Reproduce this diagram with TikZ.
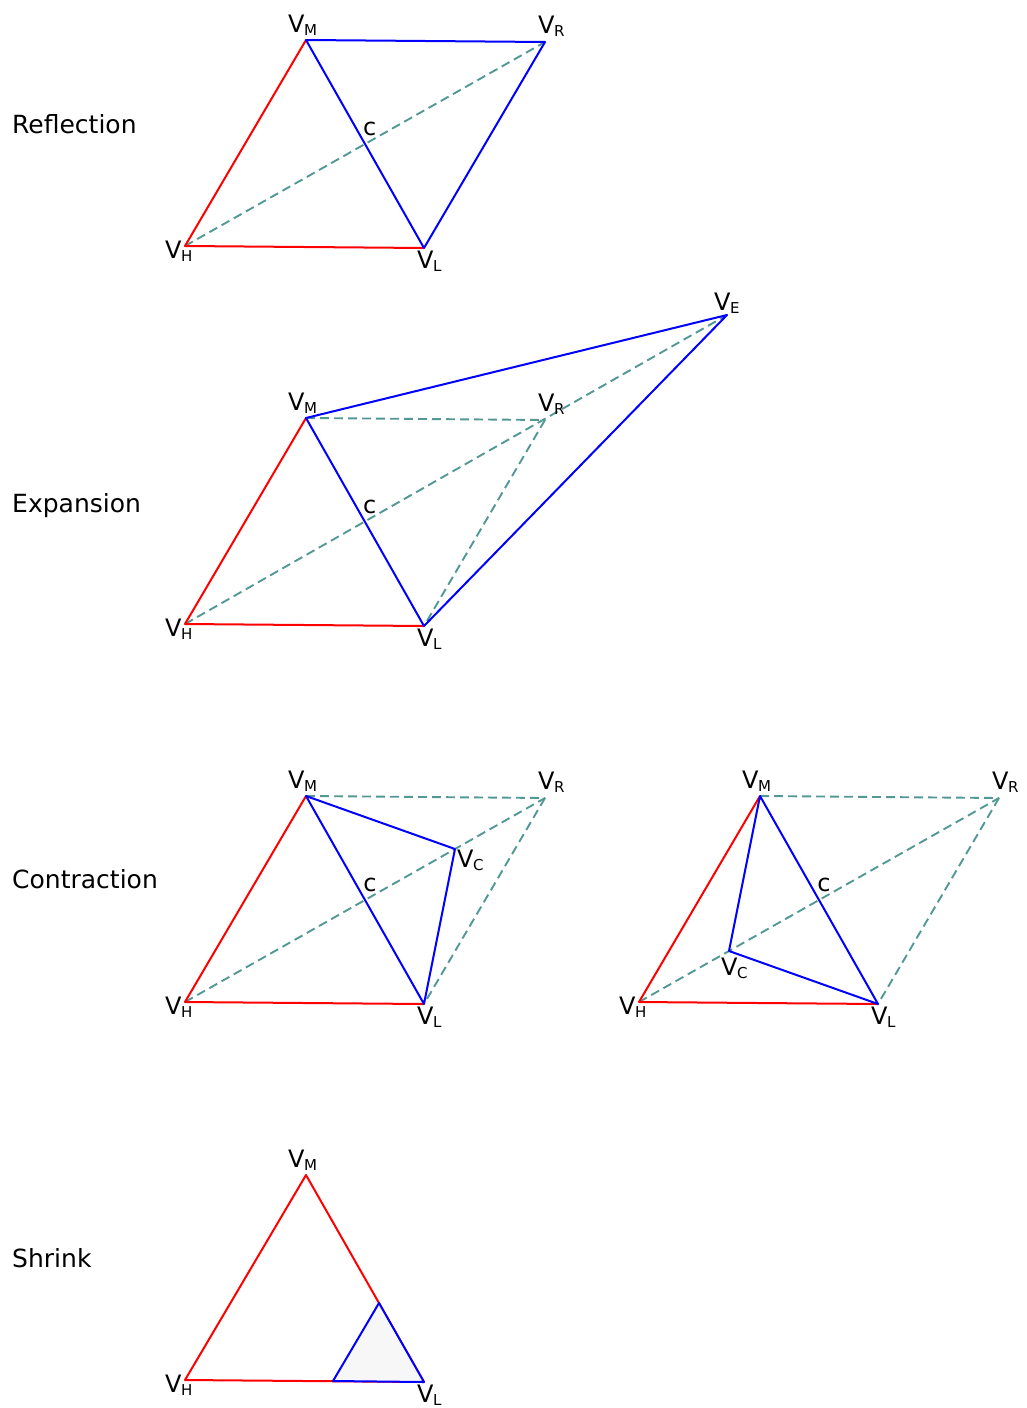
\documentclass[tikz,border=0pt]{standalone}
\usepackage{fontspec}
\setmainfont{DejaVu Sans}
\definecolor{dashteal}{RGB}{82,152,148}
\definecolor{shrinkfill}{RGB}{247,247,247}
\newcommand\vlab[1]{V\kern-0.5pt\raisebox{-3.5pt}{\fontsize{15}{15}\selectfont #1}}
\begin{document}
\begin{tikzpicture}[x=1pt,y=-1pt,
  redline/.style={draw=red,line width=2pt,line join=round},
  blueline/.style={draw=blue,line width=2pt,line join=round},
  dashline/.style={draw=dashteal,line width=1.9pt,dash pattern=on 9pt off 5pt},
  vtext/.style={anchor=base west,inner sep=0pt,font=\fontsize{24}{24}\selectfont},
  rowtext/.style={anchor=base west,inner sep=0pt,font=\fontsize{25}{28}\selectfont}]
\useasboundingbox (0,0) rectangle (1027,1408);
% row titles
\node[rowtext] (t1) at (12,133) {Reflection};
\node[rowtext] (t2) at (12,512) {Expansion};
\node[rowtext] (t3) at (12,888) {Contraction};
\node[rowtext] (t4) at (12,1267) {Shrink};
% ---------- Reflection ----------
\coordinate (H1) at (185,246);
\coordinate (L1) at (424,248);
\coordinate (M1) at (306,40);
\coordinate (R1) at (545,42);
\coordinate (X1) at (intersection of H1--R1 and M1--L1);
\draw[dashline] (H1) -- (R1);
\draw[redline] (M1) -- (H1) -- (L1);
\draw[blueline] (L1) -- (M1) -- (R1) -- cycle;
\node[vtext] (lm1) at ([shift={(-18,-8)}]M1) {\vlab{M}};
\node[vtext] (lr1) at ([shift={(-7,-9)}]R1) {\vlab{R}};
\node[vtext] (lh1) at ([shift={(-20,12)}]H1) {\vlab{H}};
\node[vtext] (ll1) at ([shift={(-7,20)}]L1) {\vlab{L}};
\node[vtext] (lc1) at ([shift={(-2,-9)}]X1) {c};
% ---------- Expansion ----------
\coordinate (H2) at (185,624);
\coordinate (L2) at (424,626);
\coordinate (M2) at (306,418);
\coordinate (R2) at (545,420);
\coordinate (E2) at (727,315);
\coordinate (X2) at (intersection of H2--R2 and M2--L2);
\draw[dashline] (M2) -- (R2);
\draw[dashline] (H2) -- (E2);
\draw[dashline] (R2) -- (L2);
\draw[redline] (M2) -- (H2) -- (L2);
\draw[blueline] (L2) -- (M2) -- (E2) -- cycle;
\node[vtext] (lm2) at ([shift={(-18,-8)}]M2) {\vlab{M}};
\node[vtext] (lr2) at ([shift={(-7,-9)}]R2) {\vlab{R}};
\node[vtext] (lh2) at ([shift={(-20,12)}]H2) {\vlab{H}};
\node[vtext] (ll2) at ([shift={(-7,20)}]L2) {\vlab{L}};
\node[vtext] (le2) at ([shift={(-13,-5)}]E2) {\vlab{E}};
\node[vtext] (lc2) at ([shift={(-2,-9)}]X2) {c};
% ---------- Contraction (outside) ----------
\coordinate (H3) at (185,1002);
\coordinate (L3) at (424,1004);
\coordinate (M3) at (306,796);
\coordinate (R3) at (545,798);
\coordinate (C3) at (455,849);
\coordinate (X3) at (intersection of H3--R3 and M3--L3);
\draw[dashline] (M3) -- (R3);
\draw[dashline] (H3) -- (R3);
\draw[dashline] (R3) -- (L3);
\draw[redline] (M3) -- (H3) -- (L3);
\draw[blueline] (L3) -- (M3) -- (C3) -- cycle;
\node[vtext] (lm3) at ([shift={(-18,-8)}]M3) {\vlab{M}};
\node[vtext] (lr3) at ([shift={(-7,-9)}]R3) {\vlab{R}};
\node[vtext] (lh3) at ([shift={(-20,12)}]H3) {\vlab{H}};
\node[vtext] (ll3) at ([shift={(-7,20)}]L3) {\vlab{L}};
\node[vtext] (lcc3) at ([shift={(2,18)}]C3) {\vlab{C}};
\node[vtext] (lc3) at ([shift={(-2,-9)}]X3) {c};
% ---------- Contraction (inside) ----------
\coordinate (H4) at (639,1002);
\coordinate (L4) at (878,1004);
\coordinate (M4) at (760,796);
\coordinate (R4) at (999,798);
\coordinate (C4) at (729,951);
\coordinate (X4) at (intersection of H4--R4 and M4--L4);
\draw[dashline] (M4) -- (R4);
\draw[dashline] (H4) -- (R4);
\draw[dashline] (R4) -- (L4);
\draw[redline] (M4) -- (H4) -- (L4);
\draw[blueline] (L4) -- (M4) -- (C4) -- cycle;
\node[vtext] (lm4) at ([shift={(-18,-8)}]M4) {\vlab{M}};
\node[vtext] (lr4) at ([shift={(-7,-9)}]R4) {\vlab{R}};
\node[vtext] (lh4) at ([shift={(-20,12)}]H4) {\vlab{H}};
\node[vtext] (ll4) at ([shift={(-7,20)}]L4) {\vlab{L}};
\node[vtext] (lcc4) at ([shift={(-8,24)}]C4) {\vlab{C}};
\node[vtext] (lc4) at ([shift={(-2,-9)}]X4) {c};
% ---------- Shrink ----------
\coordinate (H5) at (185,1380);
\coordinate (L5) at (424,1382);
\coordinate (M5) at (306,1175);
\coordinate (S5a) at (333,1381);
\coordinate (S5b) at (379,1303);
\draw[redline] (M5) -- (H5) -- (L5) -- cycle;
\draw[blueline,fill=shrinkfill] (S5a) -- (S5b) -- (L5) -- cycle;
\node[vtext] (lm5) at ([shift={(-18,-8)}]M5) {\vlab{M}};
\node[vtext] (lh5) at ([shift={(-20,12)}]H5) {\vlab{H}};
\node[vtext] (ll5) at ([shift={(-7,20)}]L5) {\vlab{L}};
\end{tikzpicture}
\end{document}
